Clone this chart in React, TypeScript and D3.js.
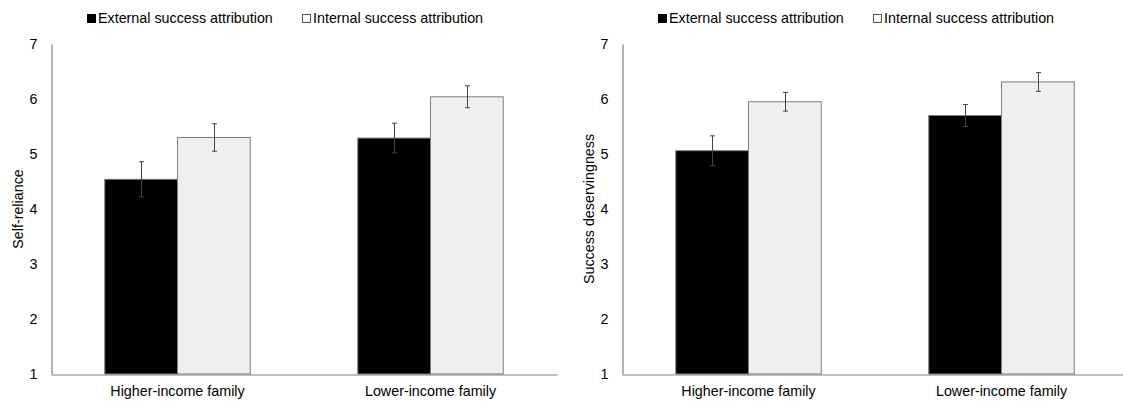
import React, { useEffect, useRef } from "react";
import * as d3 from "d3";

const categories = ["Higher-income family", "Lower-income family"];
const seriesNames = ["External success attribution", "Internal success attribution"];
const yTicks = [1, 2, 3, 4, 5, 6, 7];

// Self-reliance panel
const selfRelianceExternal = [4.54, 5.29];
const selfRelianceExternalErr = [0.32, 0.27];
const selfRelianceInternal = [5.3, 6.04];
const selfRelianceInternalErr = [0.25, 0.2];

// Success deservingness panel
const deservingExternal = [5.06, 5.7];
const deservingExternalErr = [0.27, 0.2];
const deservingInternal = [5.95, 6.31];
const deservingInternalErr = [0.17, 0.17];

const FONT = "'Liberation Sans', Arial, sans-serif";
const seriesFill = ["#000000", "#efefef"];

const drawPanel = (svg, opts) => {
  const { x0, title, titleX, values, errors } = opts;
  const top = 44, bottom = 374, width = 506;

  const x = d3.scaleBand().domain(categories).range([x0, x0 + width]).paddingInner(0.425).paddingOuter(0.2125);
  const x1 = d3.scaleBand().domain(seriesNames).range([0, x.bandwidth()]);
  const y = d3.scaleLinear().domain([1, 7]).range([bottom, top]);

  const g = svg.append("g");

  // legend
  const legendOffsets = [36, 251];
  seriesNames.forEach((name, i) => {
    const lx = x0 + legendOffsets[i];
    g.append("rect")
      .attr("x", lx + 0.5).attr("y", 14.5).attr("width", 8).attr("height", 8)
      .attr("fill", i === 0 ? "#000" : "#fff")
      .attr("stroke", i === 0 ? "#000" : "#555").attr("stroke-width", 1);
    g.append("text")
      .attr("x", lx + 11).attr("y", 23)
      .style("font-family", FONT).style("font-size", "14.3px").style("fill", "#000")
      .text(name);
  });

  // bars
  const rows = [];
  categories.forEach((c, ci) => {
    seriesNames.forEach((s, si) => {
      rows.push({ c, s, si, v: values[si][ci], e: errors[si][ci] });
    });
  });

  g.selectAll("rect.bar")
    .data(rows)
    .enter()
    .append("rect")
    .attr("class", "bar")
    .attr("x", (d) => x(d.c) + x1(d.s))
    .attr("y", (d) => y(d.v))
    .attr("width", x1.bandwidth())
    .attr("height", (d) => bottom - y(d.v))
    .attr("fill", (d) => seriesFill[d.si])
    .attr("stroke", "#7f7f7f")
    .attr("stroke-width", 1);

  // error bars
  const eb = g.selectAll("g.err").data(rows).enter().append("g").attr("class", "err")
    .attr("stroke", "#444").attr("stroke-width", 1);
  const cx = (d) => Math.round(x(d.c) + x1(d.s) + x1.bandwidth() / 2) + 0.5;
  eb.append("line").attr("x1", cx).attr("x2", cx).attr("y1", (d) => y(d.v + d.e)).attr("y2", (d) => y(d.v - d.e));
  eb.append("line").attr("x1", (d) => cx(d) - 2.5).attr("x2", (d) => cx(d) + 2.5)
    .attr("y1", (d) => y(d.v + d.e)).attr("y2", (d) => y(d.v + d.e));
  eb.append("line").attr("x1", (d) => cx(d) - 2.5).attr("x2", (d) => cx(d) + 2.5)
    .attr("y1", (d) => y(d.v - d.e)).attr("y2", (d) => y(d.v - d.e));

  // axes
  const yAxis = g.append("g").attr("transform", `translate(${x0 + 0.5},0)`)
    .call(d3.axisLeft(y).tickValues(yTicks).tickFormat(d3.format("d")).tickSize(0).tickPadding(14));
  const xAxis = g.append("g").attr("transform", `translate(0,${bottom + 0.5})`)
    .call(d3.axisBottom(x).tickSize(0).tickPadding(11));
  [yAxis, xAxis].forEach((a) => {
    a.select(".domain").attr("stroke", "#808080").attr("stroke-width", 1.2);
    a.selectAll("text").style("font-family", FONT).style("font-size", "14.3px").style("fill", "#000");
  });

  // y title
  g.append("text")
    .attr("transform", `translate(${titleX},${(top + bottom) / 2}) rotate(-90)`)
    .attr("text-anchor", "middle")
    .style("font-family", FONT).style("font-size", "14.3px").style("fill", "#000")
    .text(title);
};

const App = () => {
  const ref = useRef(null);

  useEffect(() => {
    const svg = d3.select(ref.current);
    svg.selectAll("*").remove();
    svg.append("rect").attr("width", 1123).attr("height", 401).attr("fill", "#fff");

    drawPanel(svg, {
      x0: 51,
      title: "Self-reliance",
      titleX: 23,
      values: [selfRelianceExternal, selfRelianceInternal],
      errors: [selfRelianceExternalErr, selfRelianceInternalErr],
    });
    drawPanel(svg, {
      x0: 622,
      title: "Success deservingness",
      titleX: 594,
      values: [deservingExternal, deservingInternal],
      errors: [deservingExternalErr, deservingInternalErr],
    });
  }, []);

  return (
    <svg
      ref={ref}
      width={1123}
      height={401}
      style={{ position: "absolute", left: 0, top: 0, display: "block" }}
    />
  );
};

export default App;
